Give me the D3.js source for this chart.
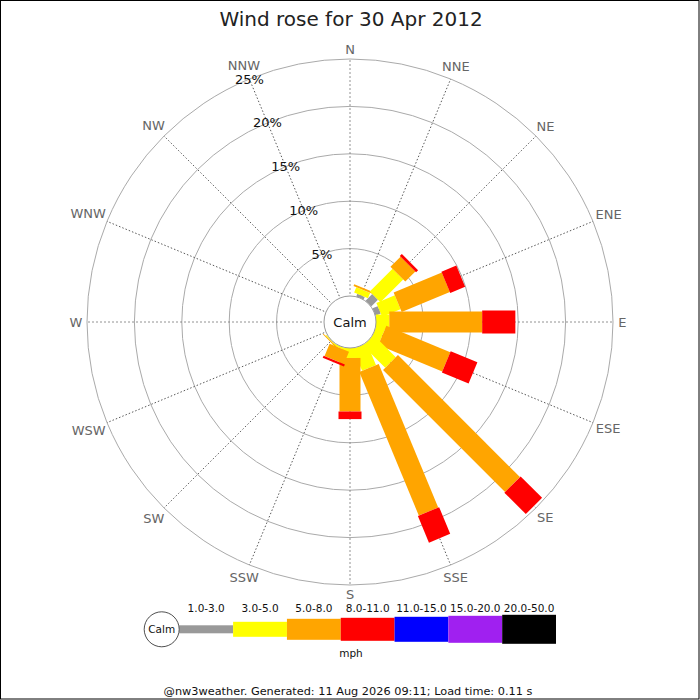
<!DOCTYPE html>
<html><head><meta charset="utf-8">
<script src="https://cdn.jsdelivr.net/npm/d3@7"></script>
<style>
html,body{margin:0;padding:0;background:#fff;}
svg{display:block;font-family:"DejaVu Sans",sans-serif;}
</style></head>
<body>
<svg id="chart" width="700" height="700"></svg>
<script>
// ---- data ----
const title = "Wind rose for 30 Apr 2012";
const directions = ["N","NNE","NE","ENE","E","ESE","SE","SSE","S","SSW","SW","WSW","W","WNW","NW","NNW"];
const speedBins = ["1.0-3.0","3.0-5.0","5.0-8.0","8.0-11.0","11.0-15.0","15.0-20.0","20.0-50.0"];
// frequency (%) per direction, one array per speed bin
const freq_1_3   = [0, 0.3, 1.0, 0.6, 0,   0,    0,    0,    0,    0,    0,   0, 0, 0, 0, 0];
const freq_3_5   = [0, 0.6, 3.4, 2.1, 1.4, 0.95, 3.3,  2.5,  1.05, 0.2,  0.1, 0, 0, 0, 0, 0];
const freq_5_8   = [0, 0.2, 1.5, 5.5, 9.8, 7.3,  18.2, 16.4, 5.65, 1.4,  0.1, 0, 0, 0, 0, 0];
const freq_8_11  = [0, 0,   0.3, 1.7, 3.5, 3.05, 3.2,  3.05, 0.8,  0.25, 0,   0, 0, 0, 0, 0];
const freq_11_15 = [0,0,0,0,0,0,0,0,0,0,0,0,0,0,0,0];
const freq_15_20 = [0,0,0,0,0,0,0,0,0,0,0,0,0,0,0,0];
const freq_20_50 = [0,0,0,0,0,0,0,0,0,0,0,0,0,0,0,0];
const ringTicks = [5, 10, 15, 20, 25];
const unitLabel = "mph";
const calmLabel = "Calm";
const footer = "@nw3weather. Generated: 11 Aug 2026 09:11; Load time: 0.11 s";

// ---- styles ----
const binColors = ["#999999","#ffff00","#ffa500","#ff0000","#0000ff","#a020f0","#000000"];
const binWidths = [8, 15, 21, 23, 25, 27, 29];

const series = [freq_1_3, freq_3_5, freq_5_8, freq_8_11, freq_11_15, freq_15_20, freq_20_50];

const svg = d3.select("#chart");
const cx = 350, cy = 322, calmR = 26;
const r = d3.scaleLinear().domain([0, 25]).range([calmR, 263]);
const ang = d3.scaleLinear().domain([0, directions.length]).range([0, 360]);

// border
svg.append("rect").attr("x",0.5).attr("y",0.5).attr("width",698.5).attr("height",698.5)
  .attr("fill","none").attr("stroke","#000").attr("stroke-width",1);

// title
svg.append("text").attr("x",351).attr("y",26).attr("text-anchor","middle")
  .attr("font-size",20).attr("fill","#222").text(title);

const g = svg.append("g").attr("transform",`translate(${cx},${cy})`);

// rings
g.selectAll("circle.ring").data(ringTicks).join("circle").attr("class","ring")
  .attr("r", d => r(d)).attr("fill","none").attr("stroke","#aaa").attr("stroke-width",1);

// spokes
g.selectAll("line.spoke").data(directions).join("line").attr("class","spoke")
  .attr("x1",0).attr("y1",0).attr("x2",0).attr("y2",-r(25))
  .attr("transform",(d,i)=>`rotate(${ang(i)})`)
  .attr("stroke",(d,i)=> i % 4 === 0 ? "#777" : "#444")
  .attr("stroke-width",0.8).attr("stroke-dasharray",(d,i)=> i % 4 === 0 ? "2,2" : "1.5,2");

// bars
directions.forEach((dir, i) => {
  let cum = 0;
  const segs = [];
  series.forEach((s, k) => {
    const v = s[i];
    if (v > 0) { segs.push({k, p0: cum, p1: cum + v}); cum += v; }
  });
  const bg = g.append("g").attr("transform", `rotate(${ang(i)})`);
  bg.selectAll("rect").data(segs).join("rect")
    .attr("x", d => -binWidths[d.k]/2)
    .attr("width", d => binWidths[d.k])
    .attr("y", d => -r(d.p1))
    .attr("height", d => r(d.p1) - r(d.p0))
    .attr("fill", d => binColors[d.k]);
});

// calm circle
g.append("circle").attr("r",calmR).attr("fill","#fff").attr("stroke","#999").attr("stroke-width",1);
g.append("text").attr("x",0).attr("y",0).attr("dy","0.35em").attr("text-anchor","middle")
  .attr("font-size",13).attr("fill","#111").text(calmLabel);

// ring labels along NNW spoke
const labAng = ang(15) * Math.PI/180;
g.selectAll("text.ringlab").data(ringTicks).join("text").attr("class","ringlab")
  .attr("x", d => r(d)*Math.sin(labAng)).attr("y", d => -r(d)*Math.cos(labAng))
  .attr("dy","0.35em").attr("text-anchor","middle").attr("font-size",13).attr("fill","#111")
  .text(d => d + "%");

// direction labels
g.selectAll("text.dirlab").data(directions).join("text").attr("class","dirlab")
  .attr("text-anchor","middle").attr("dy","0.35em").attr("font-size",13).attr("fill","#666")
  .text(d => d)
  .each(function(d,i){
    const a = ang(i)*Math.PI/180;
    const w = this.getComputedTextLength();
    const rr = 269 + 3.5*Math.abs(Math.cos(a)) + 0.4*w*Math.abs(Math.sin(a));
    d3.select(this).attr("x", rr*Math.sin(a)).attr("y", -rr*Math.cos(a));
  });

// legend
const lx = d3.scaleBand().domain(speedBins).range([179.3, 556]);
const ly = 629.3;
const leg = svg.append("g");
leg.selectAll("rect").data(speedBins).join("rect")
  .attr("x", d => lx(d)).attr("width", lx.bandwidth())
  .attr("y", (d,k) => ly - binWidths[k]/2).attr("height", (d,k) => binWidths[k])
  .attr("fill", (d,k) => binColors[k]);
leg.selectAll("text").data(speedBins).join("text")
  .attr("x", d => lx(d) + lx.bandwidth()/2).attr("y", 612)
  .attr("text-anchor","middle").attr("font-size",10.5).attr("fill","#111").text(d => d);
leg.append("circle").attr("cx",161.7).attr("cy",ly).attr("r",17.5)
  .attr("fill","#fff").attr("stroke","#222").attr("stroke-width",0.8);
leg.append("text").attr("x",161.7).attr("y",ly).attr("dy","0.35em").attr("text-anchor","middle")
  .attr("font-size",10.5).attr("fill","#111").text(calmLabel);
leg.append("text").attr("x",351).attr("y",657).attr("text-anchor","middle")
  .attr("font-size",10.5).attr("fill","#111").text(unitLabel);

// footer
svg.append("text").attr("x",348).attr("y",695).attr("text-anchor","middle")
  .attr("font-size",11.3).attr("fill","#111").text(footer);
</script>
</body></html>
